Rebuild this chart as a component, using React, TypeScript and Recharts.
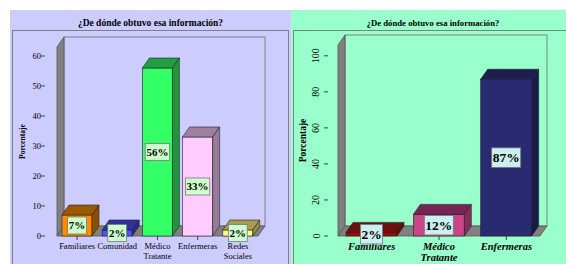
import React from 'react';
import { BarChart, Bar, XAxis, YAxis, ReferenceArea, LabelList } from 'recharts';

// Datos del gráfico izquierdo
const leftCategories = ['Familiares', 'Comunidad', 'Médico\nTratante', 'Enfermeras', 'Redes\nSociales'];
const leftValues = [7, 2, 56, 33, 2];
const leftTicks = [0, 10, 20, 30, 40, 50, 60];

// Datos del gráfico derecho
const rightCategories = ['Familiares', 'Médico\nTratante', 'Enfermeras'];
const rightValues = [2, 12, 87];
const rightTicks = [0, 20, 40, 60, 80, 100];

const TITLE = '¿De dónde obtuvo esa información?';
const SERIF = '"Liberation Serif", "Times New Roman", serif';

// colores [frente, arriba, lado]
const leftColors = [
  ['#ff8c00', '#9c5a00', '#8a5000'],
  ['#5050ff', '#30309a', '#28288a'],
  ['#33ff66', '#22a040', '#1f963c'],
  ['#ffccff', '#a080a0', '#9a7a9a'],
  ['#ffff80', '#a89c50', '#9a9048'],
];
const rightColors = [
  ['#b00000', '#6a1010', '#5a0c0c'],
  ['#cc4488', '#782456', '#8a2a5e'],
  ['#2a2a72', '#1e1e50', '#1a1a48'],
];

const DX = 7;
const DY = 10;

const leftData = leftCategories.map((name, i) => ({ name, value: leftValues[i] }));
const rightData = rightCategories.map((name, i) => ({ name, value: rightValues[i] }));

function Walls(props: any) {
  const { x, y, width, height } = props;
  const b = y + height;
  return (
    <g>
      <rect x={x + DX} y={y - DY} width={width} height={height} fill="none" stroke="#808080" />
      <polygon points={`${x},${y} ${x + DX},${y - DY} ${x + DX},${b - DY} ${x},${b}`} fill="#808080" stroke="#555" strokeWidth={0.8} />
      <polygon points={`${x},${b} ${x + DX},${b - DY} ${x + width + DX},${b - DY} ${x + width},${b}`} fill="#808080" stroke="#555" strokeWidth={0.8} />
    </g>
  );
}

function Bar3D(props: any) {
  const { x, y, width, height, colors } = props;
  const [front, top, side] = colors;
  const r = x + width;
  const b = y + height;
  return (
    <g stroke="#222" strokeWidth={0.6}>
      <rect x={x} y={y} width={width} height={height} fill={front} />
      <polygon points={`${x},${y} ${x + DX},${y - DY} ${r + DX},${y - DY} ${r},${y}`} fill={top} />
      <polygon points={`${r},${y} ${r + DX},${y - DY} ${r + DX},${b - DY} ${r},${b}`} fill={side} />
    </g>
  );
}

function ValueBox(props: any) {
  const { x, y, width, height, value, fontSize, fill } = props;
  const cx = x + width / 2;
  const cy = y + height / 2;
  const label = `${value}%`;
  const w = fontSize * (0.5 * String(value).length + 0.85) + 4;
  const h = fontSize + 6;
  return (
    <g>
      <rect x={cx - w / 2} y={cy - h / 2} width={w} height={h} fill={fill} stroke="#777" strokeWidth={0.8} />
      <text x={cx} y={cy + fontSize * 0.35} textAnchor="middle" fontFamily={SERIF} fontWeight="bold" fontSize={fontSize} fill="#000">
        {label}
      </text>
    </g>
  );
}

function CatTick(props: any) {
  const { x, y, payload, fontSize, lineH, italic, dy } = props;
  const lines = String(payload.value).split('\n');
  return (
    <text x={x} y={y + dy} textAnchor="middle" fontFamily={SERIF} fontSize={fontSize}
      fontWeight={italic ? 'bold' : 'normal'} fontStyle={italic ? 'italic' : 'normal'} fill="#000">
      {lines.map((l, i) => (
        <tspan key={i} x={x} dy={i === 0 ? 0 : lineH}>{l}</tspan>
      ))}
    </text>
  );
}

function RotTick(props: any) {
  const { x, y, payload } = props;
  const bx = x - 4.5;
  return (
    <text x={bx} y={y} transform={`rotate(-90, ${bx}, ${y})`} textAnchor="middle" fontFamily={SERIF} fontSize={10} fill="#000">
      {payload.value}
    </text>
  );
}

function AxisTitle(props: any) {
  const { viewBox, px, fontSize } = props;
  const cy = viewBox.y + viewBox.height / 2;
  return (
    <text x={px} y={cy} transform={`rotate(-90, ${px}, ${cy})`} textAnchor="middle" fontFamily={SERIF} fontWeight="bold" fontSize={fontSize} fill="#000">
      Porcentaje
    </text>
  );
}

export default function App() {
  return (
    <div style={{ position: 'absolute', left: 0, top: 0, width: 566, height: 264, background: '#fff', overflow: 'hidden' }}>
      {/* panel izquierdo */}
      <div style={{ position: 'absolute', left: 10, top: 10, width: 281, height: 254, background: '#ccccff' }}>
        <div style={{ position: 'absolute', left: 2, top: 20, width: 277, height: 300, border: '1px solid #808080', boxSizing: 'border-box' }} />
        <div style={{ position: 'absolute', left: 0, top: 7, width: 281, textAlign: 'center', fontFamily: SERIF, fontWeight: 'bold', fontSize: 9.5, lineHeight: '12px' }}>
          {TITLE}
        </div>
        <div style={{ position: 'absolute', left: 0, top: 0 }}>
          <BarChart width={281} height={254} data={leftData} margin={{ top: 37, right: 21, bottom: 0, left: 0 }}>
            <ReferenceArea y1={0} y2={63} ifOverflow="visible" shape={(p: any) => <Walls {...p} />} />
            <XAxis dataKey="name" height={28} padding={{ left: 12, right: 12 }} axisLine={false} tickSize={4}
              tickLine={{ stroke: '#444' }} interval={0}
              tick={(p: any) => <CatTick {...p} fontSize={8.5} lineH={10} dy={7} />} />
            <YAxis domain={[0, 63]} ticks={leftTicks} width={35} axisLine={false} tickSize={4} tickMargin={0}
              tickLine={{ stroke: '#444' }} tick={{ fontFamily: SERIF, fontSize: 8.5, fill: '#000' }}
              label={<AxisTitle px={15} fontSize={7.6} />} />
            <Bar dataKey="value" barSize={30} isAnimationActive={false}
              shape={(p: any) => <Bar3D {...p} colors={leftColors[p.index]} />}>
              <LabelList dataKey="value" content={(p: any) => <ValueBox {...p} fontSize={11} fill="#ccffcc" />} />
            </Bar>
          </BarChart>
        </div>
      </div>

      {/* panel derecho */}
      <div style={{ position: 'absolute', left: 291, top: 10, width: 275, height: 254, background: '#99ffcc' }}>
        <div style={{ position: 'absolute', left: 2, top: 20, width: 300, height: 300, border: '1px solid #808080', boxSizing: 'border-box' }} />
        <div style={{ position: 'absolute', left: 0, top: 7, width: 284, textAlign: 'center', fontFamily: SERIF, fontWeight: 'bold', fontSize: 8.7, lineHeight: '12px' }}>
          {TITLE}
        </div>
        <div style={{ position: 'absolute', left: 0, top: 0 }}>
          <BarChart width={275} height={254} data={rightData} margin={{ top: 35, right: 16, bottom: 0, left: 0 }}>
            <ReferenceArea y1={0} y2={106} ifOverflow="visible" shape={(p: any) => <Walls {...p} />} />
            <XAxis dataKey="name" height={28} padding={{ left: 10, right: 10 }} axisLine={false} tickSize={4}
              tickLine={{ stroke: '#444' }} interval={0}
              tick={(p: any) => <CatTick {...p} fontSize={10.5} lineH={11} dy={8} italic />} />
            <YAxis domain={[0, 106]} ticks={rightTicks} width={37} axisLine={false} tickSize={4} tickMargin={0}
              tickLine={{ stroke: '#444' }} tick={(p: any) => <RotTick {...p} />}
              label={<AxisTitle px={15} fontSize={9.5} />} />
            <Bar dataKey="value" barSize={51} isAnimationActive={false}
              shape={(p: any) => <Bar3D {...p} colors={rightColors[p.index]} />}>
              <LabelList dataKey="value" content={(p: any) => <ValueBox {...p} fontSize={13.5} fill="#ccf0f0" />} />
            </Bar>
          </BarChart>
        </div>
      </div>
    </div>
  );
}
